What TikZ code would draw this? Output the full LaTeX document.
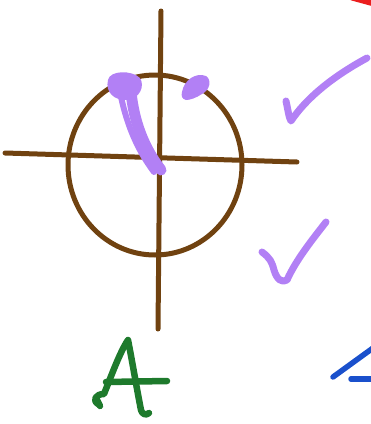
\documentclass[tikz,border=0pt]{standalone}
\begin{document}
\begin{tikzpicture}[x=1pt,y=-1pt,line cap=round,line join=round]
\definecolor{brownink}{RGB}{112,66,16}
\definecolor{purpink}{RGB}{178,128,245}
\definecolor{greenink}{RGB}{30,122,44}
\definecolor{blueink}{RGB}{26,80,204}
\definecolor{redink}{RGB}{235,30,30}
\tikzset{brownpen/.style={draw=brownink,line width=5},
 purppen/.style={draw=purpink,line width=7},
 greenpen/.style={draw=greenink,line width=6.5},
 bluepen/.style={draw=blueink,line width=5.5}}
\useasboundingbox (0,0) rectangle (371,424);
% axes and circle
\draw[brownpen] (155,165) ellipse[x radius=87,y radius=90];
\draw[brownpen] (161,11) -- (158,329);
\draw[brownpen] (5,153) -- (297,162);
% purple marks
\fill[purpink] (108,80) .. controls (110,70) and (132,70) .. (140,78) .. controls (145,86) and (140,98) .. (128,100) .. controls (114,101) and (105,92) .. (108,80) -- cycle;
\draw[purppen,line width=6] (120,92) .. controls (126,122) and (136,148) .. (154,172);
\draw[purppen,line width=11] (131,92) .. controls (134,122) and (144,148) .. (161,170);
\fill[purpink] (182,92) .. controls (184,80) and (196,72) .. (206,76) .. controls (212,80) and (210,90) .. (202,94) .. controls (196,98) and (190,100) .. (186,100) .. controls (182,99) and (181,96) .. (182,92) -- cycle;
\draw[purppen] (286,101) .. controls (288,110) and (289,118) .. (291,121) .. controls (305,100) and (330,78) .. (367,58);
\draw[purppen] (262,252) .. controls (270,258) and (272,262) .. (274,270) .. controls (277,280) and (282,283) .. (287,280) .. controls (296,260) and (312,240) .. (326,222);
% red stroke
\draw[draw=redink,line width=7] (352,-3) -- (374,3);
% green A
\draw[greenpen] (98,404) .. controls (92,400) and (96,394) .. (104,394) .. controls (112,374) and (120,352) .. (128,340) .. controls (132,360) and (137,390) .. (141,410) .. controls (142,414) and (146,416) .. (149,413);
\draw[greenpen] (96,398) -- (100,406);
\draw[greenpen] (106,382) -- (167,381);
% blue
\draw[bluepen] (333,377) -- (373,348);
\draw[bluepen] (351,379) -- (373,379);
\end{tikzpicture}
\end{document}
